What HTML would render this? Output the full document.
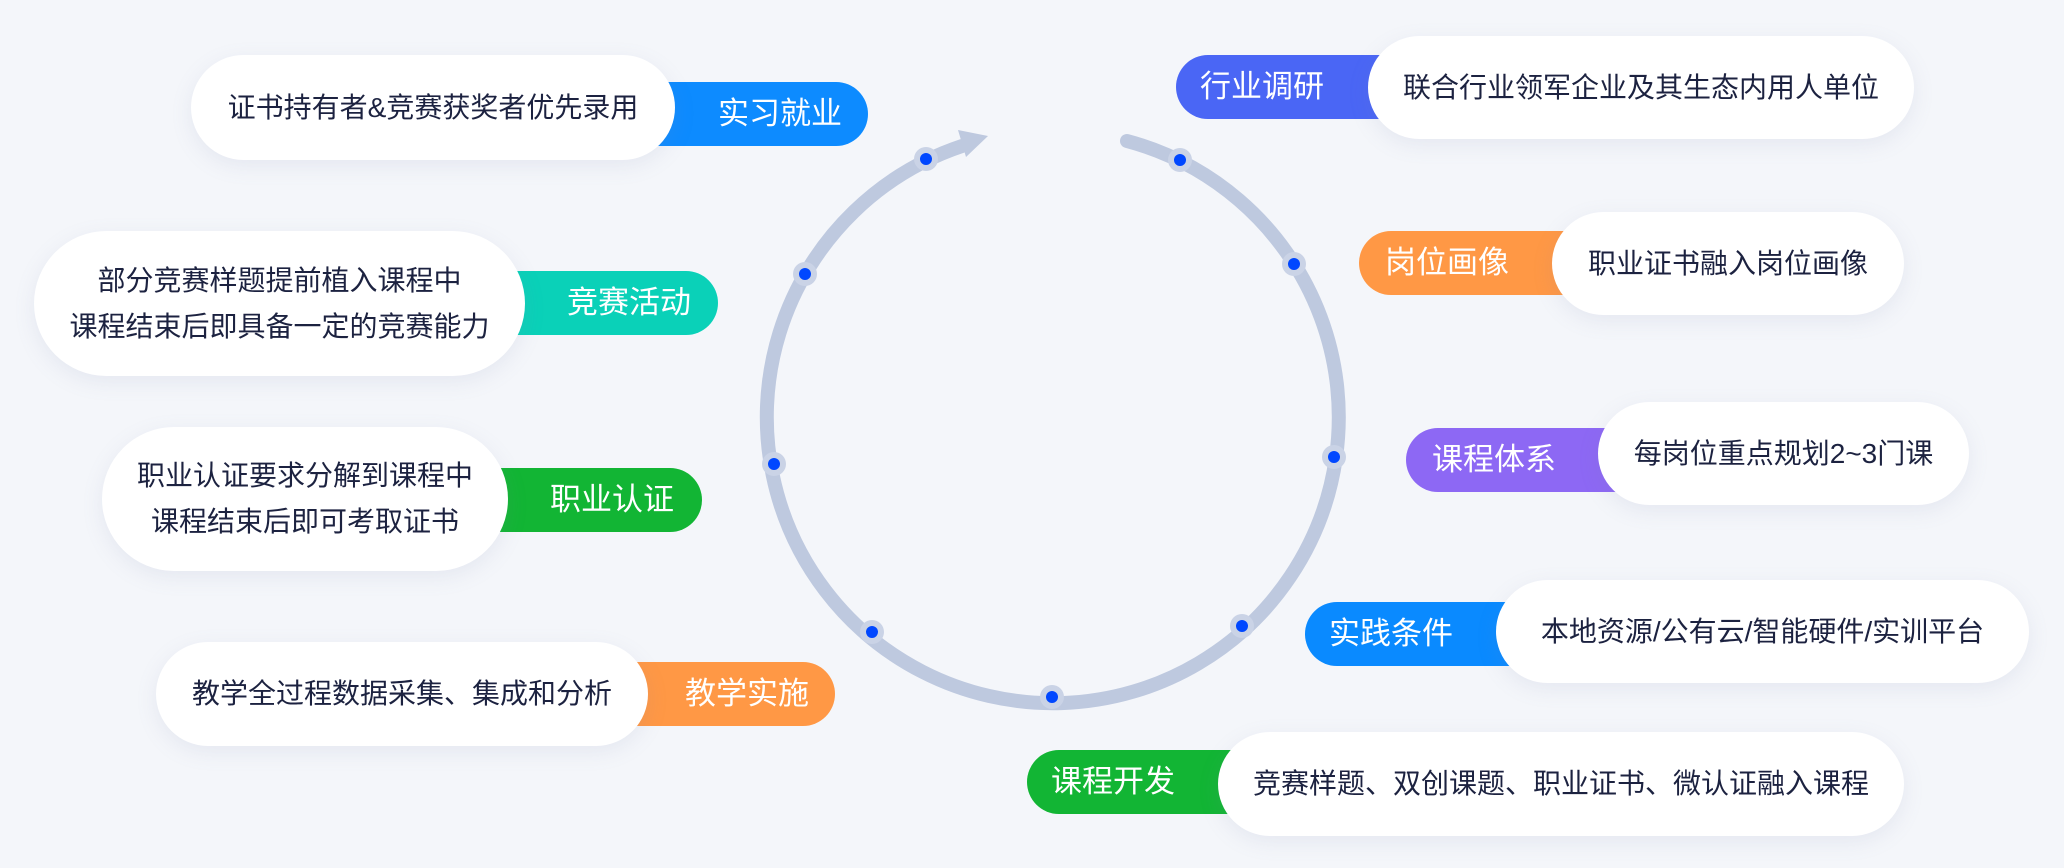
<!DOCTYPE html>
<html><head><meta charset="utf-8"><style>
html,body{margin:0;padding:0}
body{width:2064px;height:868px;background:#f4f6fa;position:relative;overflow:hidden;font-family:"Liberation Sans","Noto Sans CJK SC",sans-serif}
.w{position:absolute;background:#fff;border-radius:80px;box-shadow:0 6px 22px rgba(120,135,170,.12);display:flex;align-items:center;justify-content:center;text-align:center;color:#1c2240;font-size:28px;line-height:46px;z-index:2}
.l{position:absolute;height:64px;color:#fff;font-size:31px;line-height:64px;z-index:1;white-space:nowrap}
.lr{border-radius:0 32px 32px 0}
.ll{border-radius:32px 0 0 32px}
svg{position:absolute;left:0;top:0}
</style></head><body>
<svg width="2064" height="868">
<path d="M1127 141 A286 286 0 1 1 962 146" fill="none" stroke="#bec9df" stroke-width="14" stroke-linecap="round"/>
<polygon points="988,136 958,130 966,157" fill="#bec9df"/>
<g fill="#cad3e6">
<circle cx="1180" cy="160" r="12"/><circle cx="1294" cy="264" r="12"/><circle cx="1334" cy="457" r="12"/><circle cx="1242" cy="626" r="12"/><circle cx="1052" cy="697" r="12"/><circle cx="872" cy="632" r="12"/><circle cx="774" cy="464" r="12"/><circle cx="805" cy="274" r="12"/><circle cx="926" cy="159" r="12"/>
</g>
<g fill="#0047ff">
<circle cx="1180" cy="160" r="6"/><circle cx="1294" cy="264" r="6"/><circle cx="1334" cy="457" r="6"/><circle cx="1242" cy="626" r="6"/><circle cx="1052" cy="697" r="6"/><circle cx="872" cy="632" r="6"/><circle cx="774" cy="464" r="6"/><circle cx="805" cy="274" r="6"/><circle cx="926" cy="159" r="6"/>
</g>
</svg>

<div class="w" style="left:191px;top:55px;width:484px;height:105px">证书持有者&amp;竞赛获奖者优先录用</div>
<div class="l lr" style="left:640px;top:82px;width:228px;background:#0d8bff"><span style="position:absolute;left:78px">实习就业</span></div>

<div class="w" style="left:34px;top:231px;width:491px;height:145px">部分竞赛样题提前植入课程中<br>课程结束后即具备一定的竞赛能力</div>
<div class="l lr" style="left:500px;top:271px;width:218px;background:#0ad1b8"><span style="position:absolute;left:67px">竞赛活动</span></div>

<div class="w" style="left:102px;top:427px;width:406px;height:144px">职业认证要求分解到课程中<br>课程结束后即可考取证书</div>
<div class="l lr" style="left:490px;top:468px;width:212px;background:#12b534"><span style="position:absolute;left:60px">职业认证</span></div>

<div class="w" style="left:156px;top:642px;width:492px;height:104px">教学全过程数据采集、集成和分析</div>
<div class="l lr" style="left:620px;top:662px;width:215px;background:#ff9845"><span style="position:absolute;left:65px">教学实施</span></div>

<div class="w" style="left:1368px;top:36px;width:546px;height:103px">联合行业领军企业及其生态内用人单位</div>
<div class="l ll" style="left:1176px;top:55px;width:220px;background:#4a66f5"><span style="position:absolute;left:24px">行业调研</span></div>

<div class="w" style="left:1552px;top:212px;width:352px;height:103px">职业证书融入岗位画像</div>
<div class="l ll" style="left:1359px;top:231px;width:220px;background:#ff9845"><span style="position:absolute;left:26px">岗位画像</span></div>

<div class="w" style="left:1598px;top:402px;width:371px;height:103px">每岗位重点规划2~3门课</div>
<div class="l ll" style="left:1406px;top:428px;width:220px;background:#8d68f4"><span style="position:absolute;left:26px">课程体系</span></div>

<div class="w" style="left:1496px;top:580px;width:533px;height:103px">本地资源/公有云/智能硬件/实训平台</div>
<div class="l ll" style="left:1305px;top:602px;width:220px;background:#0a8aff"><span style="position:absolute;left:24px">实践条件</span></div>

<div class="w" style="left:1218px;top:732px;width:686px;height:104px">竞赛样题、双创课题、职业证书、微认证融入课程</div>
<div class="l ll" style="left:1027px;top:750px;width:220px;background:#12b534"><span style="position:absolute;left:24px">课程开发</span></div>
</body></html>
